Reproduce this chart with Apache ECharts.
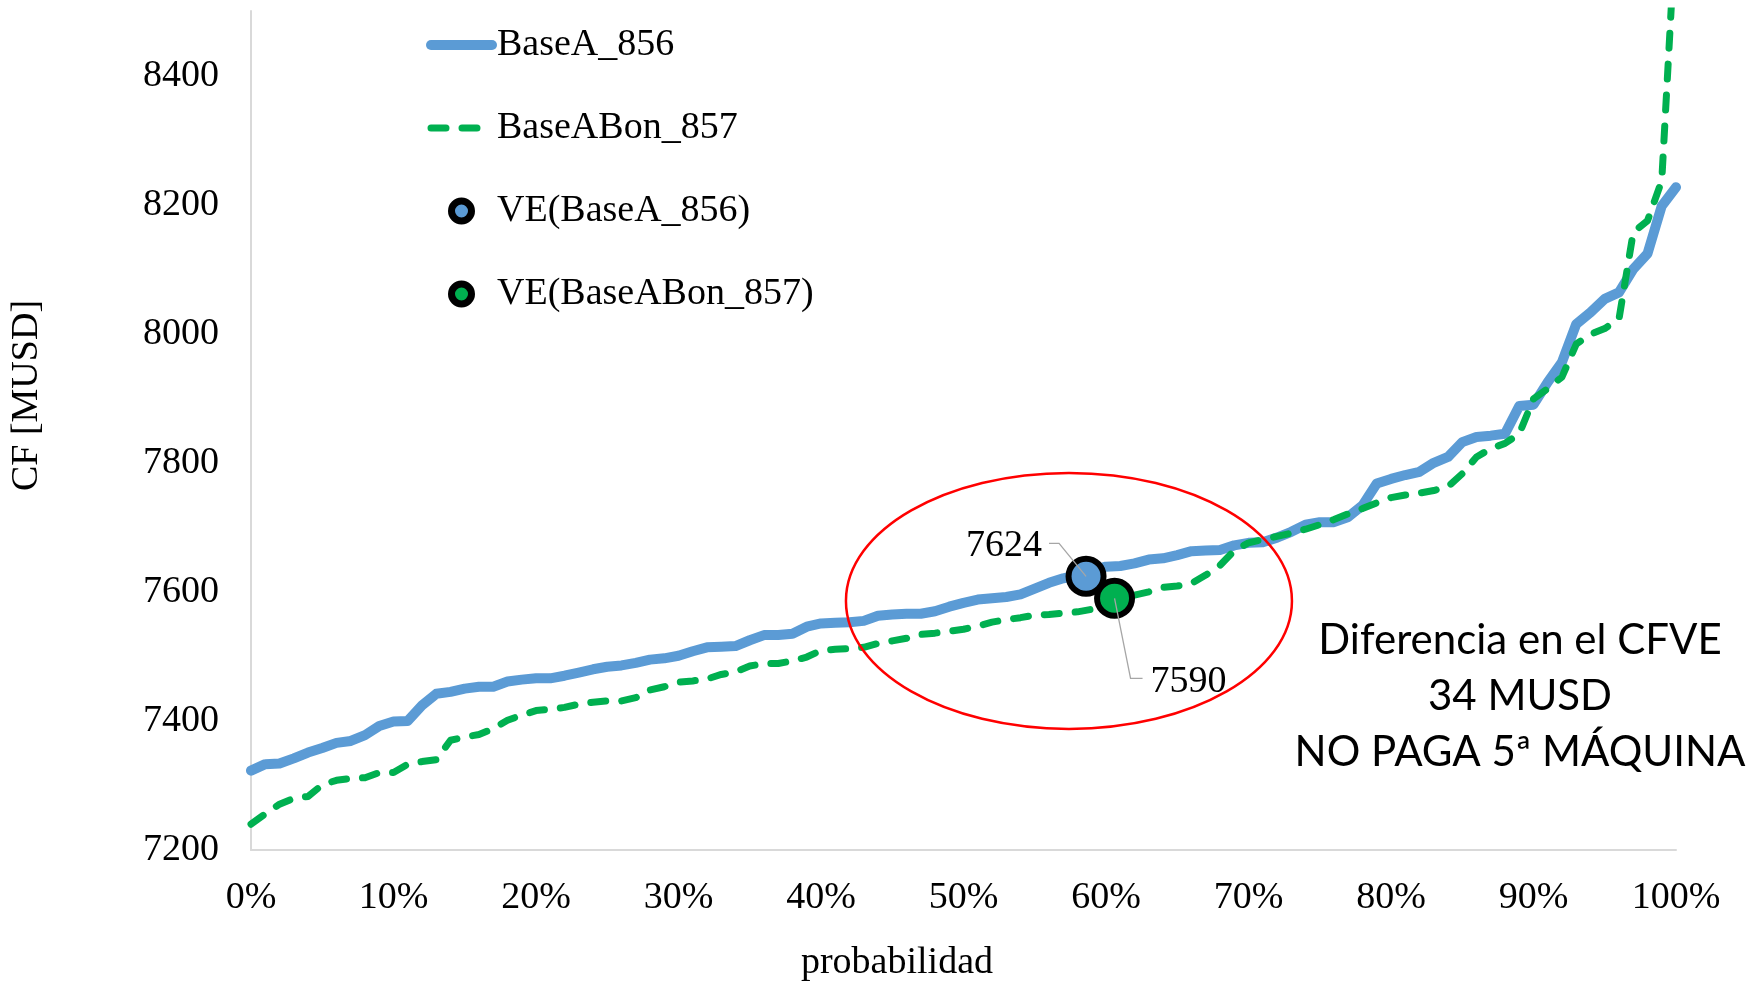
<!DOCTYPE html>
<html><head><meta charset="utf-8">
<script src="https://cdn.jsdelivr.net/npm/echarts@6/dist/echarts.min.js"></script>
<style>html,body{margin:0;padding:0;background:#fff}#c{width:1758px;height:987px}</style>
</head><body><div id="c"></div>
<script>
// probability (%) of each point
const prob = [0,1,2,3,4,5,6,7,8,9,10,11,12,13,14,15,16,17,18,19,20,21,22,23,24,25,26,27,28,29,30,31,32,33,34,35,36,37,38,39,40,41,42,43,44,45,46,47,48,49,50,51,52,53,54,55,56,57,58,59,60,61,62,63,64,65,66,67,68,69,70,71,72,73,74,75,76,77,78,79,80,81,82,83,84,85,86,87,88,89,90,91,92,93,94,95,96,97,98,99,100];
const baseA = [7323,7333,7334,7342,7351,7358,7366,7369,7378,7392,7399,7400,7424,7442,7445,7450,7453,7453,7461,7464,7466,7466,7470,7475,7480,7484,7486,7490,7495,7497,7501,7508,7514,7515,7516,7525,7533,7533,7535,7546,7551,7552,7553,7555,7563,7565,7566,7566,7570,7577,7583,7588,7590,7592,7596,7605,7614,7621,7626,7633,7639,7640,7644,7650,7652,7657,7663,7664,7665,7672,7676,7677,7684,7693,7704,7708,7708,7716,7734,7768,7775,7781,7786,7800,7809,7832,7840,7842,7845,7888,7890,7925,7956,8015,8033,8054,8064,8100,8124,8198,8227];
const baseABon = [7240,7256,7271,7280,7283,7301,7308,7311,7312,7320,7320,7333,7337,7340,7370,7375,7379,7388,7401,7409,7416,7418,7421,7426,7429,7431,7431,7436,7448,7453,7460,7462,7465,7472,7476,7485,7489,7489,7493,7499,7509,7511,7512,7514,7520,7524,7528,7534,7536,7539,7542,7547,7553,7557,7560,7564,7565,7567,7569,7573,7585,7592,7595,7600,7607,7609,7613,7626,7641,7664,7676,7681,7686,7691,7697,7704,7712,7721,7729,7738,7746,7750,7753,7757,7763,7783,7809,7822,7830,7845,7899,7915,7933,7984,7999,8008,8023,8157,8175,8237,8640];
const seriesNames = ['BaseA_856','BaseABon_857','VE(BaseA_856)','VE(BaseABon_857)'];
const veProb = [58.6, 60.6];
const veValue = [7624, 7590];
const ellipseCenter = [57.4, 7586];
const noteLines = ['Diferencia en el CFVE','34 MUSD','NO PAGA 5ª MÁQUINA'];
const xName = 'probabilidad';
const yName = 'CF [MUSD]';

const FONT = 'Liberation Serif';
const BLUE = '#5B9BD5', GREEN = '#00B050';
const HIDE = {color: 'rgba(0,0,0,0)', borderWidth: 0, opacity: 0};
const chart = echarts.init(document.getElementById('c'), null, {renderer:'canvas'});
const option = {
  animation: false,
  backgroundColor: '#fff',
  grid: {left: 251, right: 82, top: 11, bottom: 137},
  xAxis: {
    type: 'value', min: 0, max: 100, interval: 10,
    axisLine: {show: true, lineStyle: {color: '#D9D9D9', width: 2}},
    axisTick: {show: false}, splitLine: {show: false},
    axisLabel: {formatter: '{value}%', color: '#000', fontFamily: FONT, fontSize: 38, margin: 29},
    name: xName, nameLocation: 'middle', nameGap: 94,
    nameTextStyle: {color: '#000', fontFamily: FONT, fontSize: 38, padding: [0, 133, 0, 0]}
  },
  yAxis: {
    type: 'value', min: 7200, max: 8500, interval: 200,
    axisLine: {show: true, lineStyle: {color: '#D9D9D9', width: 2}},
    axisTick: {show: false}, splitLine: {show: false},
    axisLabel: {color: '#000', fontFamily: FONT, fontSize: 38, margin: 32, showMaxLabel: false,
                formatter: v => String(v)},
    name: yName, nameLocation: 'middle', nameGap: 205, nameRotate: 90,
    nameTextStyle: {color: '#000', fontFamily: FONT, fontSize: 38, padding: [0, 0, 0, 70]}
  },
  legend: {
    orient: 'vertical', left: 421, top: 20, itemWidth: 61, itemHeight: 20, itemGap: 43,
    textStyle: {fontFamily: FONT, fontSize: 38, color: '#000', lineHeight: 40},
    data: [
      {name: seriesNames[0], itemStyle: HIDE, lineStyle: {width: 10, cap: 'round', color: BLUE}},
      {name: seriesNames[1], itemStyle: HIDE, lineStyle: {width: 7, type: [15, 16], cap: 'round', color: GREEN}},
      {name: seriesNames[2], itemStyle: {color: BLUE, borderColor: '#000', borderWidth: 7}},
      {name: seriesNames[3], itemStyle: {color: GREEN, borderColor: '#000', borderWidth: 7}}
    ]
  },
  series: [
    {name: seriesNames[0], type: 'line', symbol: 'none', z: 2,
     data: prob.map((p, i) => [p, baseA[i]]),
     itemStyle: {color: BLUE},
     lineStyle: {color: BLUE, width: 10, cap: 'round', join: 'round'}},
    {name: seriesNames[1], type: 'line', symbol: 'none', z: 3, clip: true,
     data: prob.map((p, i) => [p, baseABon[i]]),
     itemStyle: {color: GREEN},
     lineStyle: {color: GREEN, width: 7, type: [15, 16], cap: 'round', join: 'round'}},
    {name: seriesNames[2], type: 'scatter', z: 5, symbol: 'circle', symbolSize: 35,
     data: [[veProb[0], veValue[0]]],
     itemStyle: {color: BLUE, borderColor: '#000', borderWidth: 6, opacity: 1},
     label: {show: true, position: 'inside', offset: [-82, -30], formatter: p => String(p.value[1]),
             color: '#000', fontFamily: FONT, fontSize: 38, textBorderWidth: 0}},
    {name: seriesNames[3], type: 'scatter', z: 6, symbol: 'circle', symbolSize: 35,
     data: [[veProb[1], veValue[1]]],
     itemStyle: {color: GREEN, borderColor: '#000', borderWidth: 6, opacity: 1},
     label: {show: true, position: 'inside', offset: [74, 84], formatter: p => String(p.value[1]),
             color: '#000', fontFamily: FONT, fontSize: 38, textBorderWidth: 0}}
  ]
};
chart.setOption(option);

const c = chart.convertToPixel({gridIndex: 0}, ellipseCenter);
const pb = chart.convertToPixel({gridIndex: 0}, [veProb[0], veValue[0]]);
const pg = chart.convertToPixel({gridIndex: 0}, [veProb[1], veValue[1]]);
chart.setOption({graphic: [
  {type: 'ellipse', z: 100, silent: true,
   shape: {cx: c[0], cy: c[1], rx: 223, ry: 128},
   style: {fill: 'none', stroke: '#FF0000', lineWidth: 2.5}},
  {type: 'polyline', z: 101, silent: true,
   shape: {points: [[pb[0] - 37, pb[1] - 33], [pb[0] - 27, pb[1] - 33], [pb[0], pb[1]]]},
   style: {fill: 'none', stroke: '#A6A6A6', lineWidth: 1.3}},
  {type: 'polyline', z: 101, silent: true,
   shape: {points: [[pg[0], pg[1]], [pg[0] + 16, pg[1] + 80], [pg[0] + 28, pg[1] + 80]]},
   style: {fill: 'none', stroke: '#A6A6A6', lineWidth: 1.3}},
  {type: 'text', z: 102, silent: true, x: 1520, y: 696,
   style: {text: noteLines.join('\n'), font: '42px Lato', fill: '#000',
           align: 'center', verticalAlign: 'middle', lineHeight: 56}}
]});
</script></body></html>
